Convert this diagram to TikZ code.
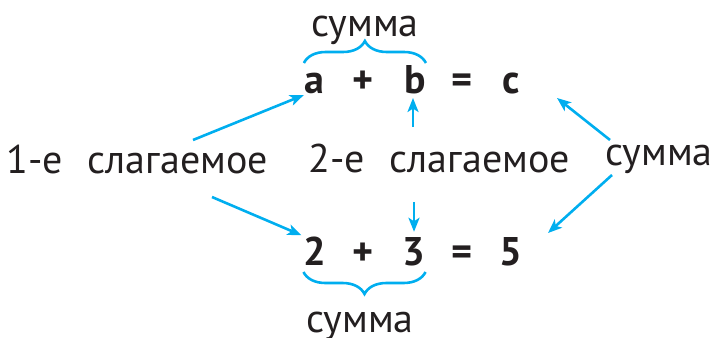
\documentclass[tikz,border=0pt]{standalone}
\usepackage{fontspec}
\setmainfont{PT Sans}
\usepackage{xcolor}
\definecolor{accent}{HTML}{00AEEF}
\definecolor{ink}{HTML}{231F20}
\usepackage{tikz}
\usetikzlibrary{positioning,arrows.meta,decorations.pathreplacing,calc}

\begin{document}
\begin{tikzpicture}[
  x=1pt,y=-1pt,
  >={Stealth[length=14pt,width=11pt,inset=3.5pt]},
  every node/.style={inner sep=0pt,text=ink},
  word/.style={font=\fontsize{40}{42}\selectfont,anchor=base west},
  sym/.style={font=\fontsize{40}{42}\selectfont\bfseries,anchor=base},
  arr/.style={->,accent,line width=2.6pt},
  brace/.style={accent,line width=2.6pt,
              decorate,decoration={brace,amplitude=22pt,aspect=0.5}},
]
\useasboundingbox (0,0) rectangle (714,337);

% --- letter equation
\node[sym] (a)     at (314,93) {a};
\node[sym] (plus1) at (363,93) {+};
\node[sym] (b)     at (415,93) {b};
\node[sym] (eq1)   at (462,93) {=};
\node[sym] (c)     at (511,93) {c};

% --- number equation
\node[sym] (two)   at (315,265) {2};
\node[sym] (plus2) at (363,265) {+};
\node[sym] (three) at (414,265) {3};
\node[sym] (eq2)   at (462,265) {=};
\node[sym] (five)  at (511,265) {5};

% --- names in the middle row
\node[word] (add1) at (6,173)   {1-е\hspace{25pt}слагаемое};
\node[word] (add2) at (308,172) {2-е\hspace{25pt}слагаемое};
\node[word] (sumR) at (605,165) {сумма};

% --- braces and their labels
\draw[brace] ($(a.base west)+(0,-30)$) -- ($(b.base east)+(0,-30)$);
\node[word,anchor=base] (sumT) at (365,37) {сумма};
\draw[brace] ($(three.base east)+(0,7)$) -- ($(two.base west)+(0,7)$);
\node[word,anchor=base] (sumB) at (360,332) {сумма};

% --- arrows
\draw[arr] ($(add1.base west)+(187,-33)$) -- ($(a.base west)+(0,2)$);
\draw[arr] ($(add1.base west)+(206,24)$)  -- ($(two.north west)+(-2,-1)$);
\draw[arr] ($(b.base)+(-2,34)$)           -- ($(b.base)+(-2,5)$);
\draw[arr] ($(three.north)+(0,-35)$)      -- ($(three.north)+(0,-5)$);
\draw[arr] ($(sumR.base west)+(5,-25)$)   -- ($(c.base)+(46,5)$);
\draw[arr] ($(sumR.base west)+(7,10)$)    -- ($(five.base)+(37,-32)$);

\end{tikzpicture}
\end{document}
